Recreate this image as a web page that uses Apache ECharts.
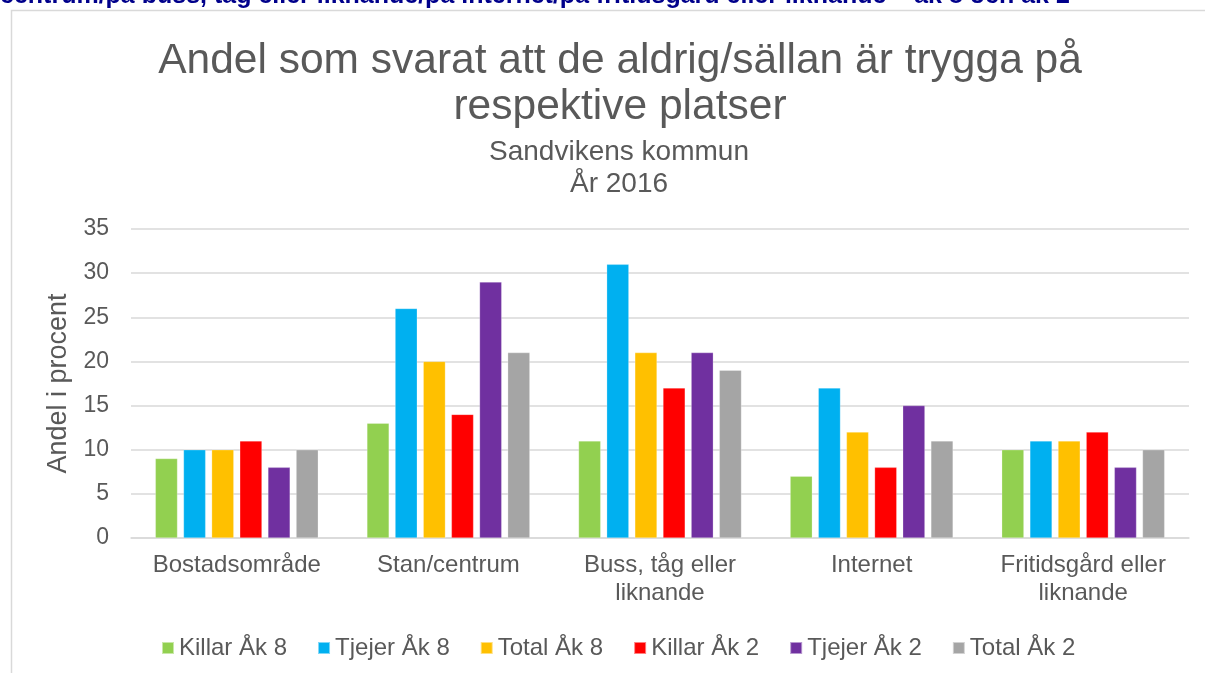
<!DOCTYPE html>
<html>
<head>
<meta charset="utf-8">
<script src="https://cdn.jsdelivr.net/npm/echarts@6/dist/echarts.min.js"></script>
<style>
  html, body { margin: 0; padding: 0; background: #fff; }
  #chart { width: 1205px; height: 673px; }
</style>
</head>
<body>
<div id="chart"></div>
<script>
// kategorier och värden (procent)
const categories = ['Bostadsområde', 'Stan/centrum', 'Buss, tåg eller\nliknande', 'Internet', 'Fritidsgård eller\nliknande']
const killarAk8 = [9, 13, 11, 7, 10]
const tjejerAk8 = [10, 26, 31, 17, 11]
const totalAk8 = [10, 20, 21, 12, 11]
const killarAk2 = [11, 14, 17, 8, 12]
const tjejerAk2 = [8, 29, 21, 15, 8]
const totalAk2 = [10, 21, 19, 11, 10]
const seriesNames = ['Killar Åk 8', 'Tjejer Åk 8', 'Total Åk 8', 'Killar Åk 2', 'Tjejer Åk 2', 'Total Åk 2']
const seriesData = [killarAk8, tjejerAk8, totalAk8, killarAk2, tjejerAk2, totalAk2]
const colors = ['#92D050', '#00B0F0', '#FFC000', '#FF0000', '#7030A0', '#A5A5A5']

const font = 'Arial, "Liberation Sans", sans-serif'
const grey = '#595959'

const chart = echarts.init(document.getElementById('chart'))

const options = {
  animation: false,
  color: colors,
  textStyle: { fontFamily: font },
  title: [
    {
      text: 'Andel som svarat att de aldrig/sällan är trygga på\nrespektive platser',
      left: 615,
      top: 33,
      textAlign: 'center',
      textStyle: { fontSize: 42.5, fontWeight: 'normal', color: grey, lineHeight: 46, fontFamily: font },
    },
    {
      text: 'Sandvikens kommun\nÅr 2016',
      left: 614,
      top: 131,
      textAlign: 'center',
      textStyle: { fontSize: 28, fontWeight: 'normal', color: grey, lineHeight: 32, fontFamily: font },
    },
  ],
  // ram och avklippt rubrik ovanför
  graphic: [
    {
      type: 'polyline',
      shape: { points: [[11.5, 673], [11.5, 10.5], [1205, 10.5]] },
      style: { stroke: '#D9D9D9', lineWidth: 1.5, fill: null },
    },
    {
      type: 'text',
      left: 0,
      top: -16,
      style: {
        text: 'centrum/på buss, tåg eller liknande/på internet/på fritidsgård eller liknande – åk 8 och åk 2',
        font: 'bold 25px Arial, "Liberation Sans", sans-serif',
        fill: '#00008B',
      },
    },
  ],
  legend: {
    top: 631,
    left: 156,
    itemWidth: 12,
    itemHeight: 12,
    itemGap: 30,
    icon: 'rect',
    textStyle: { fontSize: 24, color: grey, fontFamily: font },
    data: seriesNames,
  },
  grid: { left: 131, right: 16, top: 229, bottom: 135 },
  xAxis: {
    type: 'category',
    data: categories,
    axisTick: { show: false },
    axisLine: { lineStyle: { color: '#D9D9D9', width: 1.5 } },
    axisLabel: { fontSize: 24, color: grey, lineHeight: 28, margin: 13, interval: 0 },
  },
  yAxis: {
    type: 'value',
    min: 0,
    max: 35,
    interval: 5,
    name: 'Andel i procent',
    nameLocation: 'middle',
    nameGap: 48,
    nameTextStyle: { fontSize: 27, color: grey },
    axisLine: { show: false },
    axisLabel: { fontSize: 23, color: grey, margin: 22 },
    splitLine: { lineStyle: { color: '#D9D9D9', width: 1.5 } },
  },
  series: seriesNames.map((name, i) => ({
    name,
    type: 'bar',
    data: seriesData[i],
    barGap: '27%',
    barCategoryGap: '23%',
    itemStyle: { borderColor: 'rgba(255,255,255,0.5)', borderWidth: 0.5 },
  })),
}
chart.setOption(options)
</script>
</body>
</html>
